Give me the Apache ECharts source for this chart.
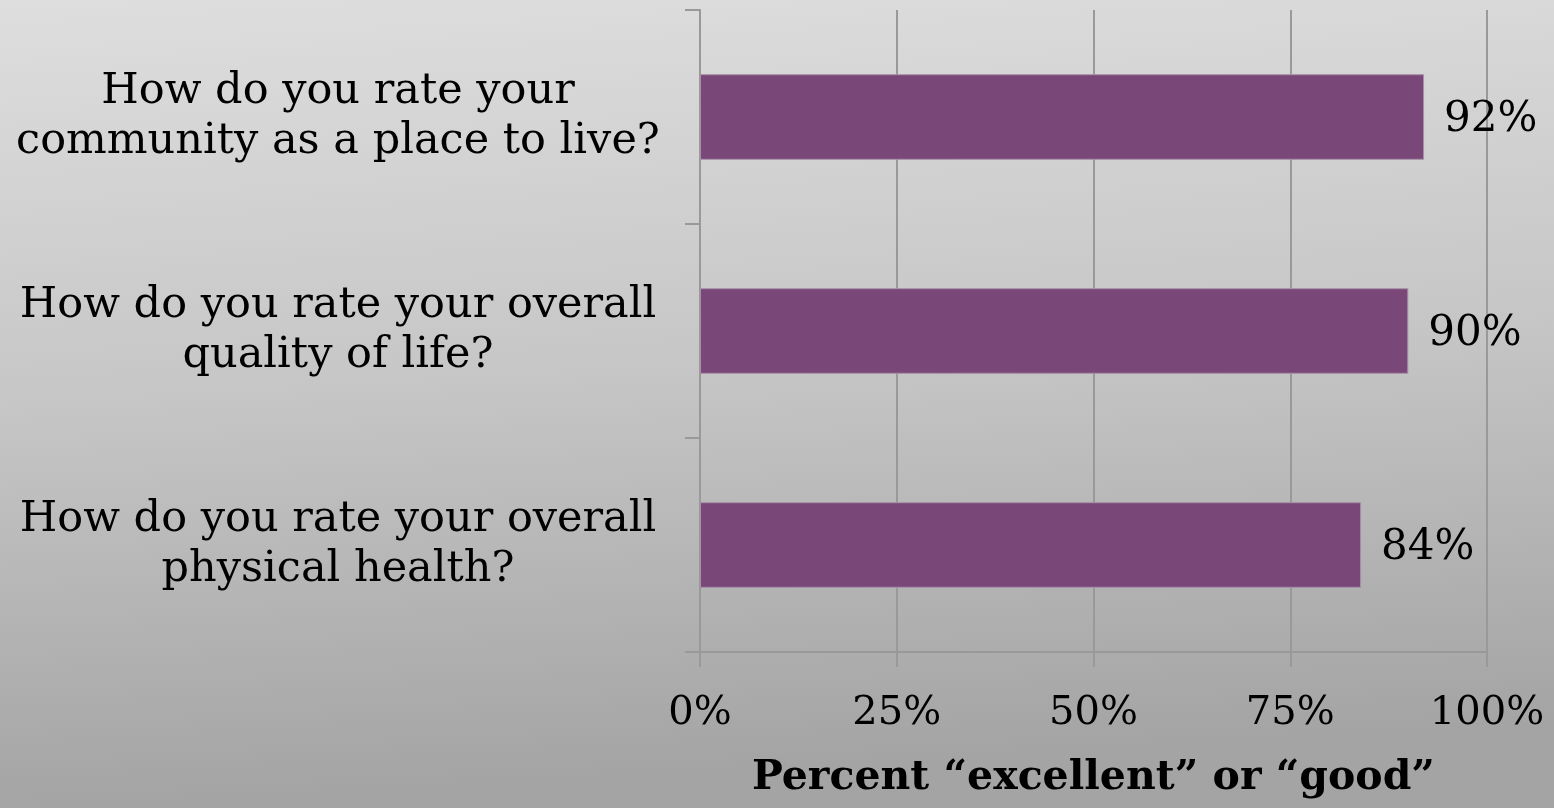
<!DOCTYPE html>
<html>
<head>
<meta charset="utf-8">
<script src="https://cdn.jsdelivr.net/npm/echarts@6/dist/echarts.min.js"></script>
<style>
html,body{margin:0;padding:0;width:1554px;height:808px;overflow:hidden;}
#chart{width:1554px;height:808px;}
</style>
</head>
<body>
<div id="chart"></div>
<script>
const categories = [
  "How do you rate your\ncommunity as a place to live?",
  "How do you rate your overall\nquality of life?",
  "How do you rate your overall\nphysical health?"
];
const values = [92, 90, 84];
const axisName = "Percent \u201cexcellent\u201d or \u201cgood\u201d";

const FONT = "DejaVu Serif";
const chart = echarts.init(document.getElementById('chart'));
chart.setOption({
  animation: false,
  backgroundColor: {
    type: 'linear', x: 0, y: 0, x2: 0.03, y2: 1,
    colorStops: [
      { offset: 0, color: '#dedede' },
      { offset: 0.5, color: '#c6c6c6' },
      { offset: 1, color: '#a4a4a4' }
    ]
  },
  grid: { left: 700, right: 67, top: 10, bottom: 156, containLabel: false },
  xAxis: {
    type: 'value', min: 0, max: 100, interval: 25,
    axisLine: { show: true, lineStyle: { color: '#999999', width: 2 } },
    axisTick: { show: true, length: 15, lineStyle: { color: '#999999', width: 2 } },
    splitLine: { show: true, lineStyle: { color: '#999999', width: 2 } },
    axisLabel: { formatter: '{value}%', fontFamily: FONT, fontSize: 40, color: '#000', margin: 42 },
    name: axisName, nameLocation: 'middle', nameGap: 106,
    nameTextStyle: { fontFamily: FONT, fontSize: 41, fontWeight: 'bold', color: '#000' }
  },
  yAxis: {
    type: 'category', data: categories, inverse: true,
    axisLine: { show: true, lineStyle: { color: '#999999', width: 2 } },
    axisTick: { show: true, length: 15, inside: false, lineStyle: { color: '#999999', width: 2 } },
    axisLabel: { fontFamily: FONT, fontSize: 43, color: '#000', align: 'center', margin: 362, lineHeight: 50 }
  },
  series: [{
    type: 'bar', data: values, barWidth: '40%',
    itemStyle: { color: '#794878', borderColor: '#a990a8', borderWidth: 1 },
    label: { show: true, position: 'right', distance: 20, offset: [0, 3], formatter: '{c}%', fontFamily: FONT, fontSize: 42, color: '#000' }
  }]
});
</script>
</body>
</html>
